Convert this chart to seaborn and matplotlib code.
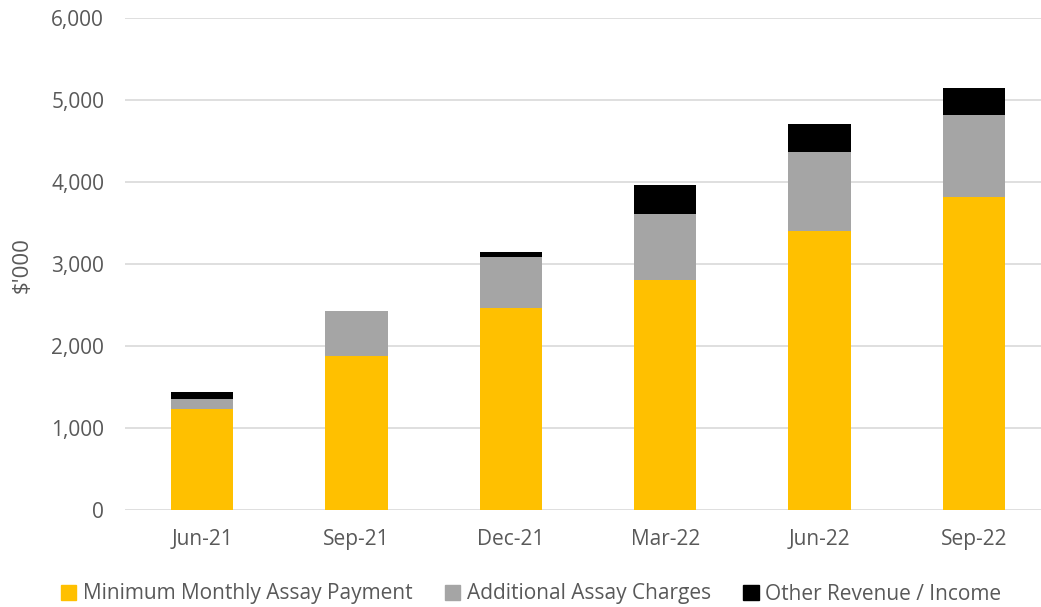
import pandas as pd
import matplotlib.pyplot as plt
import matplotlib.patches as mpatches
import seaborn as sns

# data ($'000)
quarters = ["Jun-21", "Sep-21", "Dec-21", "Mar-22", "Jun-22", "Sep-22"]
min_monthly = [1232, 1878, 2460, 2805, 3402, 3813]
additional = [118, 549, 629, 805, 960, 1004]
other = [89, 0, 54, 350, 345, 326]

series_names = ["Minimum Monthly Assay Payment", "Additional Assay Charges", "Other Revenue / Income"]
colors = ["#FFC000", "#A5A5A5", "#000000"]

df = pd.DataFrame({"quarter": quarters, "min": min_monthly, "add": additional, "other": other})
df["lvl1"] = df["min"]
df["lvl2"] = df["min"] + df["add"]
df["lvl3"] = df["lvl2"] + df["other"]

sns.set_style("white")
plt.rcParams["font.family"] = ["Open Sans", "DejaVu Sans"]

fig = plt.figure(figsize=(10.41, 6.07), dpi=100)
ax = fig.add_axes([125 / 1041, 1 - 510 / 607, (1051 - 125) / 1041, (510 - 18) / 607])

# stacked by overlaying cumulative totals
for col, c in zip(["lvl3", "lvl2", "lvl1"], colors[::-1]):
    sns.barplot(data=df, x="quarter", y=col, color=c, width=0.405, ax=ax, zorder=3,
                saturation=1, linewidth=0)

ax.set_ylim(0, 6000)
ax.set_xlim(-0.5, 5.5)
ax.set_yticks(range(0, 6001, 1000))
ax.set_yticklabels([f"{v:,}" for v in range(0, 6001, 1000)])
ax.yaxis.grid(True, color="#D9D9D9", linewidth=1.2, zorder=0)
ax.set_axisbelow(True)
for s in ax.spines.values():
    s.set_visible(False)
ax.tick_params(axis="both", length=0, labelsize=15, labelcolor="#595959")
ax.tick_params(axis="y", pad=15)
ax.tick_params(axis="x", pad=14)
ax.set_xlabel("")
ax.set_ylabel("")
fig.text(22 / 1041, 1 - 265 / 607, "$'000", rotation=90, fontsize=16, color="#595959",
         ha="center", va="center")

handles = [mpatches.Patch(color=c, label=n) for c, n in zip(colors, series_names)]
fig.legend(handles=handles, loc="center", bbox_to_anchor=(0.510, 1 - 594 / 607), ncol=3,
           frameon=False, fontsize=15, handlelength=0.75, handleheight=0.75,
           handletextpad=0.3, columnspacing=1.55, labelcolor="#595959")

fig.savefig("out.png", dpi=100)
